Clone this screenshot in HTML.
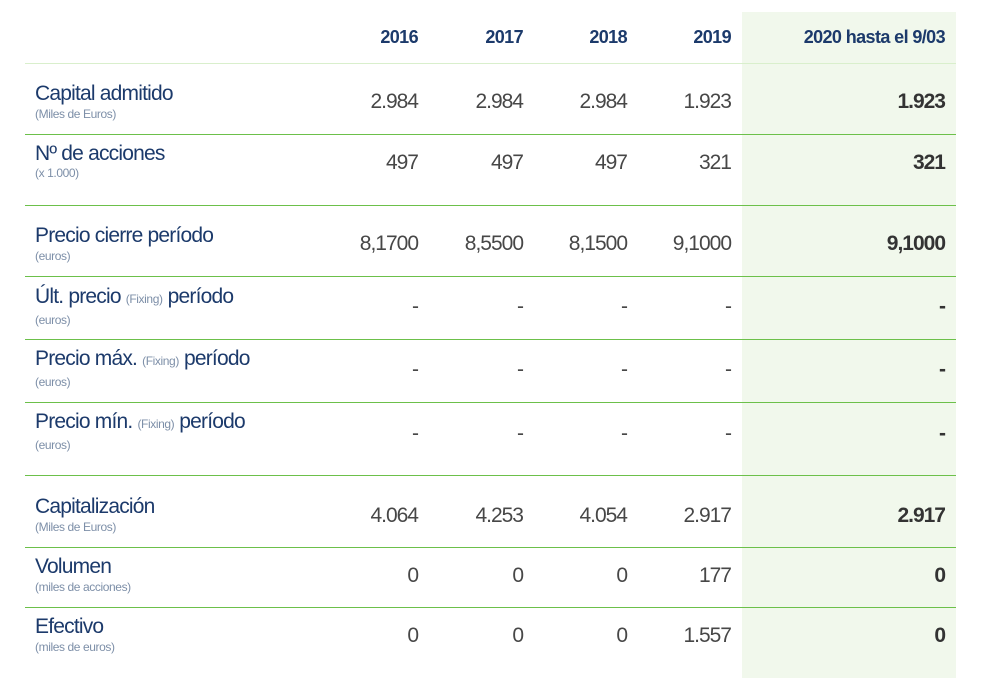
<!DOCTYPE html>
<html><head><meta charset="utf-8"><style>
body{margin:0;width:990px;height:687px;background:#fff;position:relative;overflow:hidden;font-family:"Liberation Sans",sans-serif;}
.g{position:absolute;left:742px;top:12px;width:214px;height:666px;background:#f1f8ec;}
.l{position:absolute;left:25px;width:931px;height:1px;background:#6cc04a;}
.h{position:absolute;top:27px;font-size:18px;font-weight:bold;color:#1c3a6b;text-align:right;letter-spacing:-0.6px;}
.t{position:absolute;left:35px;font-size:21px;color:#1c3a6b;letter-spacing:-0.8px;white-space:nowrap;line-height:22px;}
.t small{font-size:12px;color:#7d8fa8;letter-spacing:-0.4px;}
.s{position:absolute;left:35px;font-size:12px;color:#7d8fa8;letter-spacing:-0.4px;line-height:14px;}
.v{position:absolute;font-size:21px;color:#474747;text-align:right;width:120px;letter-spacing:-1px;line-height:22px;}
.b{font-weight:bold;color:#333;}
</style></head><body>
<div class="g"></div>
<div class="h" style="left:318px;width:100px">2016</div>
<div class="h" style="left:423px;width:100px">2017</div>
<div class="h" style="left:527px;width:100px">2018</div>
<div class="h" style="left:631px;width:100px">2019</div>
<div class="h" style="left:745px;width:200px">2020 hasta el 9/03</div>
<div class="l" style="top:63px;background:#d9efcc"></div>
<div class="l" style="top:134px"></div>
<div class="l" style="top:205px"></div>
<div class="l" style="top:276px"></div>
<div class="l" style="top:339px"></div>
<div class="l" style="top:402px"></div>
<div class="l" style="top:475px"></div>
<div class="l" style="top:547px"></div>
<div class="l" style="top:607px"></div>

<div class="t" style="top:83px">Capital admitido</div><div class="s" style="top:107px">(Miles de Euros)</div>
<div class="t" style="top:143px">Nº de acciones</div><div class="s" style="top:166px">(x 1.000)</div>
<div class="t" style="top:225px">Precio cierre período</div><div class="s" style="top:249px">(euros)</div>
<div class="t" style="top:286px">Últ. precio <small>(Fixing)</small> período</div><div class="s" style="top:313px">(euros)</div>
<div class="t" style="top:348px">Precio máx. <small>(Fixing)</small> período</div><div class="s" style="top:375px">(euros)</div>
<div class="t" style="top:411px">Precio mín. <small>(Fixing)</small> período</div><div class="s" style="top:438px">(euros)</div>
<div class="t" style="top:496px">Capitalización</div><div class="s" style="top:520px">(Miles de Euros)</div>
<div class="t" style="top:556px">Volumen</div><div class="s" style="top:580px">(miles de acciones)</div>
<div class="t" style="top:616px">Efectivo</div><div class="s" style="top:640px">(miles de euros)</div>

<div id="vals"></div>
<script>
var rows=[[91,["2.984","2.984","2.984","1.923","1.923"]],[152,["497","497","497","321","321"]],[233,["8,1700","8,5500","8,1500","9,1000","9,1000"]],[296,["-","-","-","-","-"]],[359,["-","-","-","-","-"]],[423,["-","-","-","-","-"]],[505,["4.064","4.253","4.054","2.917","2.917"]],[565,["0","0","0","177","0"]],[625,["0","0","0","1.557","0"]]];
var xs=[418,523,627,731,945],h="";
rows.forEach(function(r){r[1].forEach(function(v,i){h+='<div class="v'+(i==4?' b':'')+'" style="top:'+r[0]+'px;left:'+(xs[i]-120)+'px">'+v+'</div>';});});
document.getElementById('vals').innerHTML=h;
</script>
</body></html>
